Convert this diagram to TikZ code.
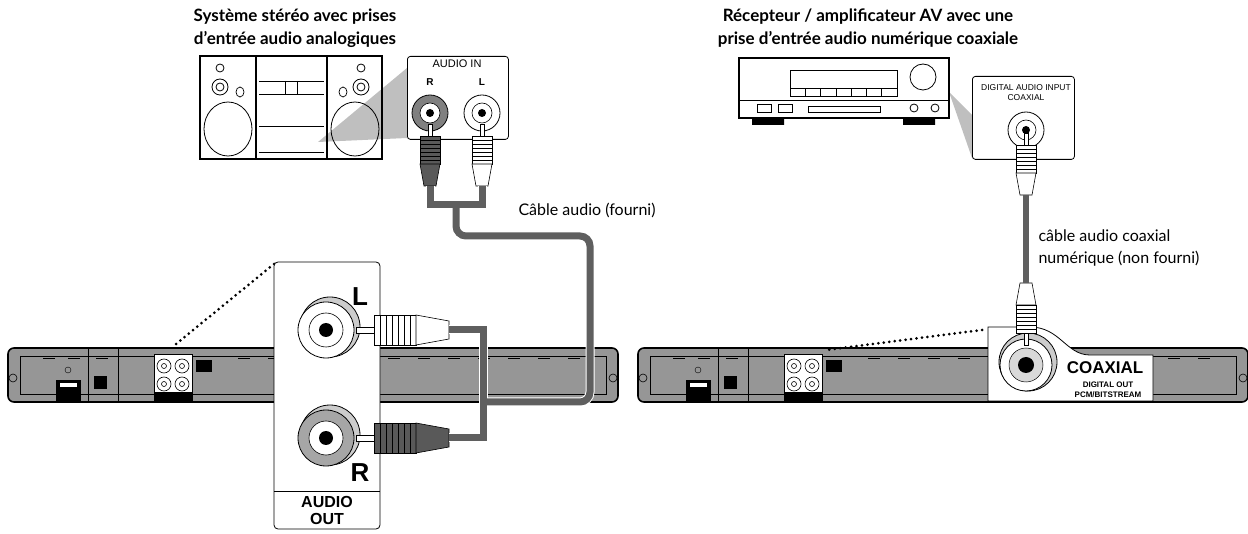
\documentclass[tikz,border=0pt]{standalone}
\usepackage{fontspec}
\setmainfont{Lato}
\setsansfont{Liberation Sans}
\usetikzlibrary{calc}
\definecolor{cablegray}{RGB}{95,95,95}
\definecolor{bodygray}{RGB}{150,150,150}
\tikzset{
  outline/.style={draw=black,line width=1.2pt},
  panel/.style={draw=black,fill=white,line width=0.8pt,rounded corners=3pt},
  cable/.style={draw=cablegray,line width=7pt,rounded corners=10pt},
  cableedge/.style={draw=white,line width=9pt,rounded corners=10pt},
  dots/.style={line width=3pt,dash pattern=on 0pt off 5.5pt,line cap=round},
  title/.style={font=\bfseries\fontsize{17}{23}\selectfont,align=center},
  label/.style={font=\fontsize{16}{22}\selectfont,align=left,anchor=west},
  % RCA plug, pointing up, tip at origin
  pics/plug/.style={code={
    \draw[fill=white,line width=0.6pt] (-2,0) rectangle (2,12);
    \draw[fill=#1,line width=0.6pt] (-10,12) rectangle (10,40);
    \foreach \y in {16,20,...,36} \draw[line width=0.5pt] (-10,\y) -- (10,\y);
    \draw[fill=#1,line width=0.6pt] (-10,40) -- (10,40) -- (6,62) -- (-6,62) -- cycle;
  }},
  % RCA jack
  pics/jack/.style={code={
    \draw[fill=#1,line width=0.8pt] (0,0) circle (18);
    \draw[fill=white,line width=0.6pt] (0,0) circle (10);
    \fill[black] (0,0) circle (4);
  }},
  % rear of the player
  pics/player/.style={code={
    \draw[fill=bodygray,line width=1.6pt,rounded corners=6pt] (0,0) rectangle (610,54);
    \draw[line width=0.7pt] (12,8) -- (598,8);
    \draw[line width=0.7pt] (12,8) -- (12,46) -- (598,46) -- (598,8);
    \foreach \x in {35,60,88,230,260,290,320,350,380,410,440,470,500,530,560}
      \draw[line width=0.8pt] (\x,10) -- (\x+12,10);
    \draw[line width=0.6pt] (5,30) circle (4) (605,30) circle (4);
    \draw[fill=black] (48,32) rectangle (72,42);
    \draw[fill=white] (51,34) rectangle (69,39);
    \draw[fill=black] (48,42) rectangle (72,52);
    \draw[fill=black] (86,28) rectangle (98,40);
    \draw (80,0) -- (80,54) (110,0) -- (110,54);
    \draw (60,22) circle (3);
    \draw[fill=white] (146,6) rectangle (184,54);
    \foreach \p in {(156,18),(174,18),(156,36),(174,36)}
      \draw[fill=white,line width=0.6pt] \p circle (7) \p circle (2.5);
    \fill[black] (146,44) rectangle (184,54);
    \fill[black] (188,12) rectangle (204,24);
  }},
}
\begin{document}
\begin{tikzpicture}[x=1pt,y=-1pt]
  \useasboundingbox (0,0) rectangle (1248,534);

  % ---------- left: stereo system ----------
  \node[title] (stitle) at (295,28) {Système stéréo avec prises\\d’entrée audio analogiques};

  \fill[black!25] (318,142) -- (407,68) -- (407,138) -- cycle;
  \draw[outline] (200,56) rectangle (382,159);
  \draw[outline] (256,56) -- (256,159) (327,56) -- (327,159);
  \draw[line width=0.7pt] (259,81) -- (324,81) (259,94) -- (324,94)
    (285,81) -- (285,94) (297,81) -- (297,94) (259,126) -- (324,126) (259,152) -- (324,152);
  \foreach \cx/\kx/\ox in {228/220/240, 355/361/343} {
    \draw[line width=0.8pt] (\cx,129) ellipse (24 and 27);
    \draw[line width=0.8pt] (\kx,68) circle (4);
    \draw[line width=0.8pt] (\kx,87) circle (8) (\kx,87) circle (4);
    \draw[line width=0.7pt] (\ox,92) ellipse (4 and 5);
  }

  \node[panel,minimum width=101,minimum height=83,anchor=north west] (ain) at (407,56) {};
  \node[font=\sffamily\fontsize{11}{12}\selectfont] (aintxt) at (457,64) {AUDIO IN};
  \node[font=\sffamily\bfseries\fontsize{10}{12}\selectfont] (rin) at (430,82) {R};
  \node[font=\sffamily\bfseries\fontsize{10}{12}\selectfont] (lin) at (482,82) {L};
  \pic at (430,113) {jack=black!50};
  \pic at (482,113) {jack=white};

  % plugs into audio in
  \pic at (430,124) {plug=black!65};
  \pic at (482,124) {plug=white};
  \coordinate (rend) at (430,186);
  \coordinate (lend) at (482,186);

  % ---------- left: player ----------
  \pic at (8,348) {player};
  \draw[dots] (274,264) -- (176,344);

  \draw[panel,rounded corners=4pt] (274,262) rectangle (380,529);
  \draw[line width=0.8pt] (274,491) -- (380,491);
  \node[font=\sffamily\bfseries\fontsize{16}{17}\selectfont,align=center] (aout) at (327,510) {AUDIO\\OUT};
  \node[font=\sffamily\bfseries\fontsize{26}{26}\selectfont] (lout) at (360,297) {L};
  \node[font=\sffamily\bfseries\fontsize{26}{26}\selectfont] (rout) at (360,473) {R};
  \foreach \y/\c in {330/white, 438/black!35} {
    \draw[fill=black!20,line width=0.8pt] (330,\y-3) circle (30);
    \draw[fill=\c,line width=0.8pt] (326,\y) circle (28);
    \draw[fill=white,line width=0.6pt] (326,\y) circle (17);
    \fill[black] (326,\y) circle (7);
  }
  % plugs into audio out
  \pic[rotate=90,scale=1.5] at (356,330) {plug=white};
  \pic[rotate=90,scale=1.5] at (356,438) {plug=black!65};
  \coordinate (loend) at (449,330);
  \coordinate (roend) at (449,438);

  % audio cable
  \coordinate (jn) at (456,205);
  \coordinate (jout) at (483,402);
  \foreach \s in {cableedge,cable} {
    \draw[\s,rounded corners=0pt] (rend) -- (430,205) -- (482,205) -- (lend);
    \draw[\s] (jn) -- (456,236) -- (590,236) -- (590,402) -- (jout);
    \draw[\s,rounded corners=0pt] (loend) -- (483,330) -- (483,438) -- (roend);
  }
  \node[label] (lcable) at (515,210) {Câble audio (fourni)};

  % ---------- right: receiver ----------
  \node[title] (rtitle) at (868,28) {Récepteur / amplificateur AV avec une\\prise d’entrée audio numérique coaxiale};

  \fill[black!25] (949,92) -- (972,115) -- (972,158) -- cycle;
  \draw[outline] (739,58) rectangle (949,118);
  \fill[black] (752,118) rectangle (784,125) (903,118) rectangle (935,125);
  \draw[line width=0.8pt] (790,70) rectangle (897,88);
  \foreach \i in {0,...,6}
    \draw[line width=0.7pt] (790+\i*15.3,88) rectangle (790+\i*15.3+15.3,96);
  \draw[line width=0.8pt] (923,77) circle (13);
  \draw[line width=0.7pt] (739,100) -- (949,100);
  \draw[line width=0.8pt] (757,104) rectangle (771,112) (778,104) rectangle (792,112) (808,106) rectangle (880,112);
  \draw[line width=0.8pt] (914,108) circle (4) (935,108) circle (4);

  \node[panel,minimum width=102,minimum height=83,anchor=north west] (din) at (972,76) {};
  \node[font=\sffamily\fontsize{8.5}{10}\selectfont,align=center] (dintxt) at (1026,93) {DIGITAL AUDIO INPUT\\COAXIAL};
  \pic at (1026,130) {jack=white};
  \pic at (1026,133) {plug=white};
  \coordinate (dend) at (1026,195);

  % ---------- right: player ----------
  \pic at (638,348) {player};
  \draw[dots] (982,330) -- (826,350);
  \draw[draw=black,fill=white,line width=0.8pt] (988,401) -- (988,327) -- (1030,327)
    .. controls (1060,327) and (1066,355) .. (1090,355) -- (1153,355) -- (1153,401) -- cycle;
  \draw[fill=black!20,line width=0.8pt] (1028,362) circle (29);
  \draw[fill=white,line width=0.8pt] (1026,365) circle (26);
  \draw[fill=black!15,line width=0.5pt] (1026,365) circle (17);
  \fill[black] (1026,365) circle (8);
  \node[font=\sffamily\bfseries\fontsize{17}{17}\selectfont] (coax) at (1105,368) {COAXIAL};
  \node[font=\sffamily\bfseries\fontsize{8}{10}\selectfont,align=center] (dout) at (1108,390) {DIGITAL OUT\\PCM/BITSTREAM};
  \pic[rotate=180] at (1026,345) {plug=white};
  \coordinate (dstart) at (1026,283);

  % coaxial cable
  \draw[cable,line width=6pt] (dend) -- (dstart);
  \node[label] (rcable) at (1035,248) {câble audio coaxial\\numérique (non fourni)};
\end{tikzpicture}
\end{document}
